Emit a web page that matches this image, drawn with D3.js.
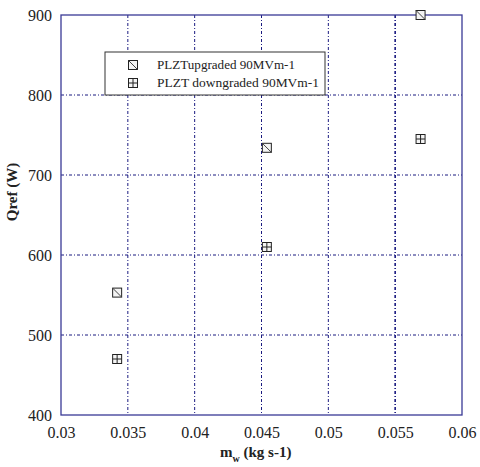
<!DOCTYPE html>
<html><head><meta charset="utf-8">
<script src="https://cdn.jsdelivr.net/npm/d3@7"></script>
<style>body{margin:0;background:#fff}</style>
</head><body>
<svg id="c" width="480" height="467"></svg>
<script>
const xTicks = [0.03, 0.035, 0.04, 0.045, 0.05, 0.055, 0.06];
const yTicks = [400, 500, 600, 700, 800, 900];
const upgradedX = [0.0342, 0.0454, 0.0569];
const upgradedY = [553, 734, 900];
const downgradedX = [0.0342, 0.0454, 0.0569];
const downgradedY = [470, 610, 745];
const seriesNames = ["PLZTupgraded 90MVm-1", "PLZT downgraded 90MVm-1"];

const svg = d3.select("#c");
const L = 61, R = 462, T = 15, B = 415;
const x = d3.scaleLinear().domain([0.03, 0.06]).range([L, R]);
const y = d3.scaleLinear().domain([400, 900]).range([B, T]);
const font = "Liberation Serif, Times New Roman, serif";
const frame = "#3a3a96";
const grid = "#1a1a80";

// grid
svg.append("g").selectAll("line").data(xTicks.slice(1, -1)).join("line")
  .attr("x1", d => x(d)).attr("x2", d => x(d)).attr("y1", T).attr("y2", B)
  .attr("stroke", grid).attr("stroke-width", d => d === 0.055 ? 1.6 : 1)
  .attr("stroke-dasharray", "3,2,1,2");
svg.append("g").selectAll("line").data(yTicks.slice(1, -1)).join("line")
  .attr("x1", L).attr("x2", R).attr("y1", d => y(d)).attr("y2", d => y(d))
  .attr("stroke", grid).attr("stroke-width", 1)
  .attr("stroke-dasharray", "3,2,1,2");

// frame
svg.append("rect").attr("x", L).attr("y", T).attr("width", R - L).attr("height", B - T)
  .attr("fill", "none").attr("stroke", frame).attr("stroke-width", 1.3);

// axes (labels only)
const xa = svg.append("g").attr("transform", `translate(0,${B})`)
  .call(d3.axisBottom(x).tickValues(xTicks).tickFormat(d => String(+d.toFixed(3))).tickSize(0).tickPadding(12));
xa.select(".domain").remove();
xa.selectAll("text").attr("font-family", font).attr("font-size", 16).attr("fill", "#222");
const ya = svg.append("g").attr("transform", `translate(${L},0)`)
  .call(d3.axisLeft(y).tickValues(yTicks).tickSize(0).tickPadding(9));
ya.select(".domain").remove();
ya.selectAll("text").attr("font-family", font).attr("font-size", 16).attr("fill", "#222");

// axis titles
const xt = svg.append("text").attr("x", 220).attr("y", 457).attr("text-anchor", "start")
  .attr("font-family", font).attr("font-size", 15).attr("font-weight", "bold").attr("fill", "#222");
xt.append("tspan").text("m");
xt.append("tspan").attr("font-size", 10).attr("dy", 5).text("w");
xt.append("tspan").attr("dy", -5).text(" (kg s-1)");
svg.append("text").attr("transform", "translate(17,192) rotate(-90)").attr("text-anchor", "middle")
  .attr("font-family", font).attr("font-size", 15).attr("font-weight", "bold").attr("fill", "#222")
  .text("Qref (W)");

// markers
const s = 4.5;
function upMarker(g, cx, cy) {
  g.append("rect").attr("x", cx - s).attr("y", cy - s).attr("width", 2 * s).attr("height", 2 * s)
    .attr("fill", "#f4f4f4").attr("stroke", "#222").attr("stroke-width", 1);
  g.append("line").attr("x1", cx - s).attr("y1", cy - s).attr("x2", cx + s).attr("y2", cy + s)
    .attr("stroke", "#444").attr("stroke-width", 1);
}
function downMarker(g, cx, cy) {
  g.append("rect").attr("x", cx - s).attr("y", cy - s).attr("width", 2 * s).attr("height", 2 * s)
    .attr("fill", "#f4f4f4").attr("stroke", "#222").attr("stroke-width", 1);
  g.append("line").attr("x1", cx - s).attr("y1", cy).attr("x2", cx + s).attr("y2", cy)
    .attr("stroke", "#222").attr("stroke-width", 1);
  g.append("line").attr("x1", cx).attr("y1", cy - s).attr("x2", cx).attr("y2", cy + s)
    .attr("stroke", "#222").attr("stroke-width", 1);
}
const pg = svg.append("g");
upgradedX.forEach((d, i) => upMarker(pg, x(d), y(upgradedY[i])));
downgradedX.forEach((d, i) => downMarker(pg, x(d), y(downgradedY[i])));

// legend
const lg = svg.append("g");
lg.append("rect").attr("x", 105).attr("y", 52).attr("width", 220).attr("height", 43)
  .attr("fill", "#fff").attr("stroke", "#333").attr("stroke-width", 1);
upMarker(lg, 133, 65);
downMarker(lg, 133, 83);
seriesNames.forEach((n, i) => {
  lg.append("text").attr("x", 157).attr("y", 69 + i * 18).attr("font-family", font)
    .attr("font-size", 13).attr("fill", "#222").attr("textLength", i === 0 ? 138 : 162)
    .attr("lengthAdjust", "spacingAndGlyphs").text(n);
});
</script>
</body></html>
